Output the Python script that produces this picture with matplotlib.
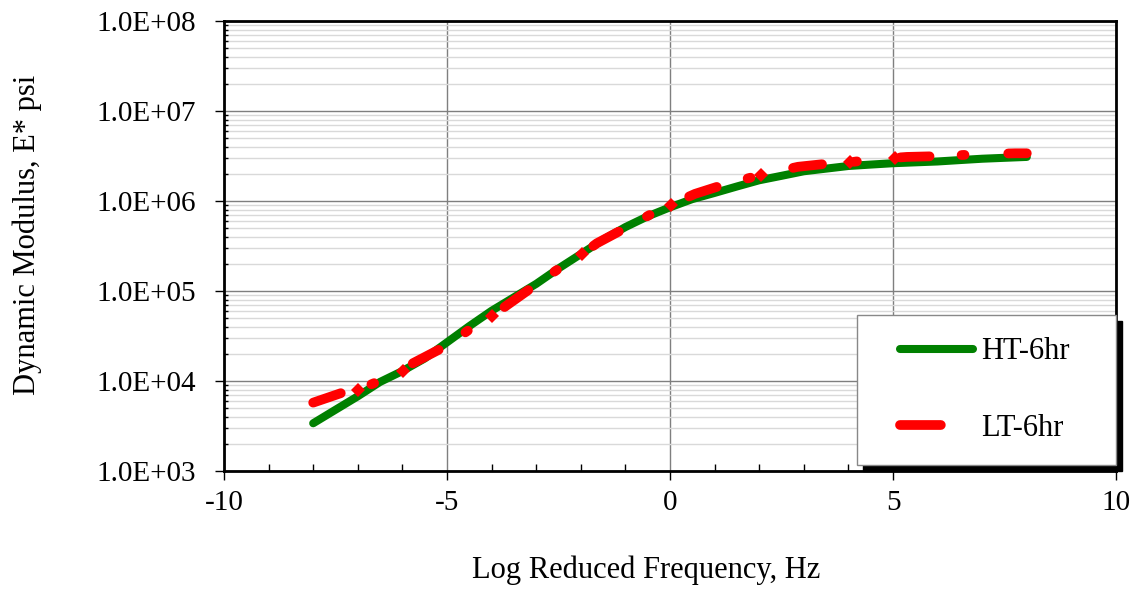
import matplotlib
matplotlib.use("Agg")
import matplotlib.pyplot as plt
from matplotlib.lines import Line2D
from matplotlib.patches import Rectangle
from matplotlib.ticker import FixedLocator, LogLocator, NullFormatter

plt.rcParams["font.family"] = ["Liberation Serif", "DejaVu Serif"]

# HT-6hr master curve (Log reduced frequency, |E*| psi)
ht_freq = [-8, -7.5, -7, -6.5, -6, -5.5, -5, -4.5, -4, -3.5, -3, -2.5, -2, -1.5, -1, -0.5,
           0, 0.5, 1, 1.5, 2, 2.5, 3, 3.5, 4, 4.5, 5, 5.5, 6, 6.5, 7, 7.5, 8]
ht_modulus = [3390, 4790, 6760, 9770, 12900, 17800, 26900, 40700, 60300, 85100, 120000,
              178000, 257000, 372000, 513000, 676000, 851000, 1050000, 1230000, 1450000,
              1700000, 1905000, 2140000, 2290000, 2450000, 2540000, 2630000, 2690000,
              2750000, 2850000, 2950000, 3020000, 3090000]

# LT-6hr master curve
lt_freq = [-8.0, -7.35, -7.0, -6.52, -5.99, -5.76, -4.98, -4.42, -3.99, -3.66, -2.98, -2.40,
           -1.97, -1.64, -0.96, -0.29, 0.02, 0.56, 1.19, 2.04, 2.87, 3.63, 4.04, 4.46, 5.04,
           5.31, 6.10, 6.90, 7.74, 8.00]
lt_modulus = [5750, 7410, 7940, 10000, 12900, 15800, 25100, 39800, 52500, 69200, 120000,
              191000, 257000, 339000, 513000, 776000, 912000, 1200000, 1510000, 1950000,
              2400000, 2630000, 2690000, 2880000, 3020000, 3090000, 3160000, 3310000,
              3390000, 3390000]
# measured points drawn with a diamond
lt_marked = [2, 4, 8, 12, 16, 19, 22, 24]

x_ticks = [-10, -5, 0, 5, 10]
y_ticks = [1e3, 1e4, 1e5, 1e6, 1e7, 1e8]
y_ticklabels = ["1.0E+03", "1.0E+04", "1.0E+05", "1.0E+06", "1.0E+07", "1.0E+08"]

fig = plt.figure(figsize=(11.41, 5.92), dpi=100)
fig.patch.set_facecolor("white")
ax = fig.add_axes([0.1963, 0.2044, 0.7818, 0.7601])

green = "#008000"
red = "#ff0000"

ax.plot(ht_freq, ht_modulus, color=green, lw=5.8, solid_capstyle="round", zorder=3)
ax.plot(lt_freq, lt_modulus, color=red, lw=7.0, dash_capstyle="round",
        linestyle=(0, (3.0, 3.3, 0.3, 4.5)), marker="D", markersize=7.5,
        markevery=lt_marked, markeredgewidth=0, zorder=4)

ax.set_yscale("log")
ax.set_xlim(-10, 10)
ax.set_ylim(1e3, 1e8)

ax.set_xticks(x_ticks)
ax.set_xticklabels([str(t) for t in x_ticks])
ax.xaxis.set_minor_locator(FixedLocator(range(-10, 11)))
ax.set_yticks(y_ticks)
ax.set_yticklabels(y_ticklabels)
ax.yaxis.set_minor_locator(LogLocator(base=10, subs=range(2, 10)))
ax.yaxis.set_minor_formatter(NullFormatter())

ax.tick_params(axis="both", which="major", labelsize=21, length=6.5, width=1, direction="out")
ax.tick_params(axis="x", which="minor", length=5, width=1, direction="in")
ax.tick_params(axis="y", which="minor", length=3, width=1, direction="in")
ax.tick_params(axis="x", which="major", pad=7.5)
ax.tick_params(axis="y", which="major", pad=13.5)

ax.grid(True, which="major", axis="both", color="#7f7f7f", lw=1.0)
ax.grid(True, which="minor", axis="y", color="#d9d9d9", lw=1.0)
ax.set_axisbelow(True)

for sp in ax.spines.values():
    sp.set_linewidth(2.0)
    sp.set_color("black")

ax.set_xlabel("Log Reduced Frequency, Hz", fontsize=22)
ax.xaxis.set_label_coords(0.473, -0.187)
ax.set_ylabel("Dynamic Modulus, E* psi", fontsize=22)
ax.yaxis.set_label_coords(-0.204, 0.524)

# legend box with a solid black drop shadow
box = (0.7097, 0.0133, 0.2903, 0.3333)
dx, dy = 6 / 892, 6 / 450
ax.add_patch(Rectangle((box[0] + dx, box[1] - dy), box[2], box[3], transform=ax.transAxes,
                       facecolor="black", edgecolor="black", clip_on=False, zorder=5))
ax.add_patch(Rectangle((box[0], box[1]), box[2], box[3], transform=ax.transAxes,
                       facecolor="white", edgecolor="#888888", lw=1.0, clip_on=False, zorder=6))

handles = [
    Line2D([], [], color=green, lw=5.8, solid_capstyle="round"),
    Line2D([], [], color=red, lw=7.0, dash_capstyle="round", linestyle=(0, (4.2, 20))),
]
leg = ax.legend(handles, ["HT-6hr", "LT-6hr"], loc="center left",
                bbox_to_anchor=(0.758, 0.18), fontsize=22, frameon=False,
                borderpad=0, borderaxespad=0, labelspacing=1.55,
                handlelength=2.4, handletextpad=0.25)
leg.set_zorder(7)

fig.savefig("out.png", dpi=100)
